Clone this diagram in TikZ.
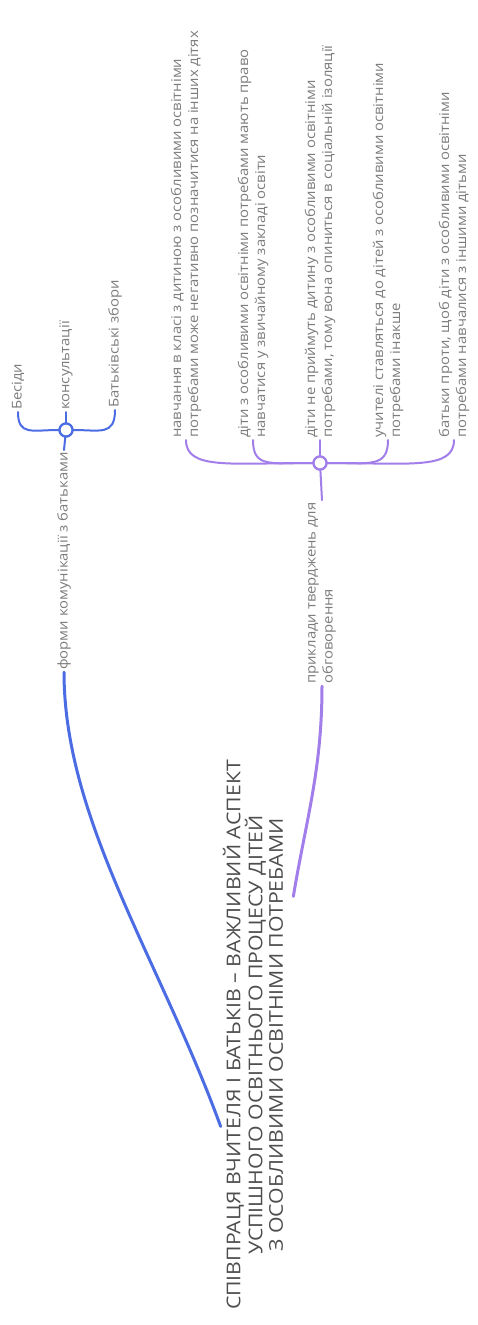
\documentclass[tikz,border=0pt]{standalone}
\usepackage{fontspec}
\setmainfont{Open Sans}
\newfontfamily\korenfont[FakeStretch=1.12]{Open Sans}
\newfontfamily\gilkafont[FakeStretch=1.1]{Open Sans}
\usetikzlibrary{calc}
\definecolor{siniy}{RGB}{76,108,228}
\definecolor{fioletovyi}{RGB}{162,126,234}
\definecolor{tekst}{RGB}{125,125,125}
\definecolor{tekstkoren}{RGB}{78,78,78}
\tikzset{
  koren/.style={rotate=90, align=center, font=\korenfont\fontsize{19}{20.5}\selectfont, text=tekstkoren, inner sep=2pt},
  gilka/.style={rotate=90, anchor=west, align=left, font=\gilkafont\fontsize{13.5}{17}\selectfont, text=tekst, inner sep=2pt},
  vuzol/.style={circle, draw=#1, fill=white, line width=2.2pt, minimum size=13pt, inner sep=0pt},
  liniyaA/.style={draw=#1, line width=3pt, line cap=round},
  liniyaB/.style={draw=#1, line width=2pt, line cap=round},
}
\begin{document}
\begin{tikzpicture}[x=1pt,y=-1pt]
  \useasboundingbox (0,0) rectangle (478,1325);
  \fill[white] (0,0) rectangle (478,1325);

  % korin
  \node[koren] (root) at (253,1035) {СПІВПРАЦЯ ВЧИТЕЛЯ І БАТЬКІВ – ВАЖЛИВИЙ АСПЕКТ\\УСПІШНОГО ОСВІТНЬОГО ПРОЦЕСУ ДІТЕЙ\\З ОСОБЛИВИМИ ОСВІТНІМИ ПОТРЕБАМИ};

  % synia gilka
  \node[gilka] (formy) at (64,672) {форми комунікації з батьками};
  \node[vuzol=siniy] (jb) at (66,430) {};
  \node[gilka] (besidy) at (18,412) {Бесіди};
  \node[gilka] (konsult) at (66,412) {консультації};
  \node[gilka] (zbory) at (115,410) {Батьківські збори};
  \draw[liniyaA=siniy] ($(root.north)!0.33!(root.north west)$) .. controls (160,960) and (64,820) .. (formy.west);
  \draw[liniyaB=siniy] (formy.east) -- (jb);
  \draw[liniyaB=siniy] (jb) .. controls (32,430) and (18,436) .. (besidy.west);
  \draw[liniyaB=siniy] (jb) -- (konsult.west);
  \draw[liniyaB=siniy] (jb) .. controls (100,430) and (115,436) .. (zbory.west);
  \node[vuzol=siniy] at (jb) {};

  % fioletova gilka
  \node[gilka] (pryklady) at (322,686) {приклади тверджень для\\обговорення};
  \node[vuzol=fioletovyi] (jp) at (320,463) {};
  \node[gilka] (tv1) at (186,440) {навчання в класі з дитиною з особливими освітніми\\потребами може негативно позначитися на інших дітях};
  \node[gilka] (tv2) at (253,440) {діти з особливими освітніми потребами мають право\\навчатися у звичайному закладі освіти};
  \node[gilka] (tv3) at (320,440) {діти не приймуть дитину з особливими освітніми\\потребами, тому вона опиниться в соціальній ізоляції};
  \node[gilka] (tv4) at (388,440) {учителі ставляться до дітей з особливими освітніми\\потребами інакше};
  \node[gilka] (tv5) at (454,440) {батьки проти, щоб діти з особливими освітніми\\потребами навчалися з іншими дітьми};
  \draw[liniyaA=fioletovyi] ($(root.south)!0.5!(root.south east)+(8,0)$) .. controls (306,820) and (322,770) .. (pryklady.west);
  \draw[liniyaB=fioletovyi] (pryklady.east) -- (jp);
  \draw[liniyaB=fioletovyi] (jp) .. controls (230,463) and (186,470) .. (tv1.west);
  \draw[liniyaB=fioletovyi] (jp) .. controls (270,463) and (253,468) .. (tv2.west);
  \draw[liniyaB=fioletovyi] (jp) -- (tv3.west);
  \draw[liniyaB=fioletovyi] (jp) .. controls (370,463) and (388,468) .. (tv4.west);
  \draw[liniyaB=fioletovyi] (jp) .. controls (410,463) and (454,470) .. (tv5.west);
  \node[vuzol=fioletovyi] at (jp) {};
\end{tikzpicture}
\end{document}
